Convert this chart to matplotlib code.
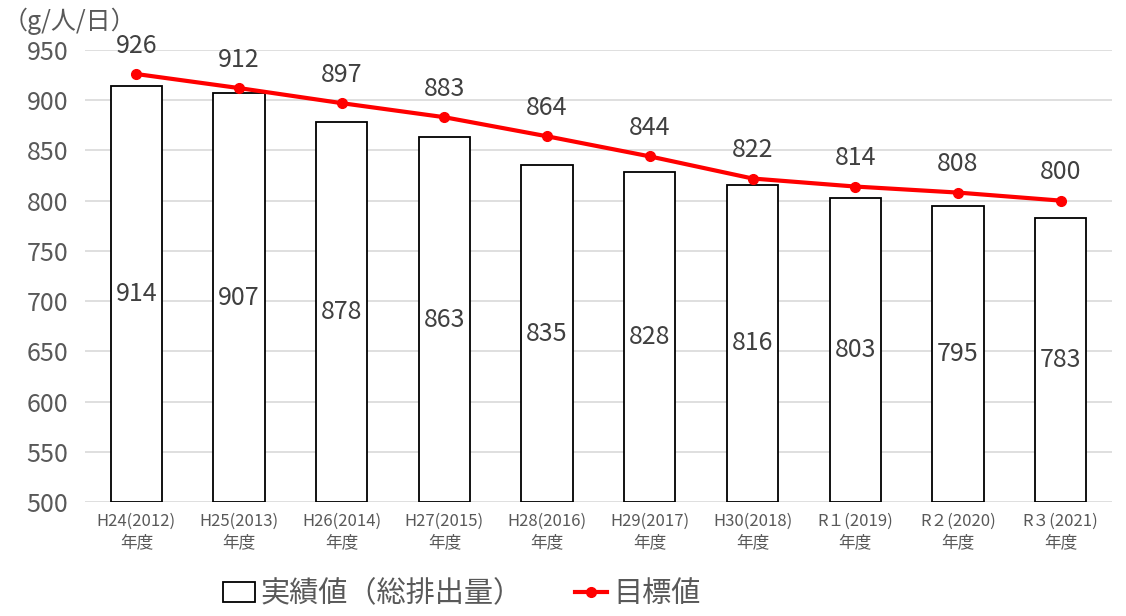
"""Waste per person: actual vs target."""

import matplotlib
matplotlib.use("Agg")
import matplotlib.pyplot as plt
import numpy as np
from matplotlib.patches import Patch
from matplotlib.lines import Line2D

categories = ["H24(2012)\n年度", "H25(2013)\n年度", "H26(2014)\n年度", "H27(2015)\n年度",
              "H28(2016)\n年度", "H29(2017)\n年度", "H30(2018)\n年度", "R１(2019)\n年度",
              "R２(2020)\n年度", "R３(2021)\n年度"]
actual = [914, 907, 878, 863, 835, 828, 816, 803, 795, 783]
target = [926, 912, 897, 883, 864, 844, 822, 814, 808, 800]

plt.rcParams["font.family"] = ["Noto Sans CJK JP", "DejaVu Sans"]
jp_font = ["Noto Sans CJK JP", "DejaVu Sans"]

fig = plt.figure(figsize=(11.26, 6.16), dpi=100)
ax = fig.add_axes([0.0755, 0.185, 0.912, 0.734])
x = np.arange(len(categories))

ax.bar(x, [a - 500 for a in actual], bottom=500, width=0.5, color="white",
       edgecolor="black", linewidth=1.3, zorder=2)
ax.plot(x, target, color="#ff0000", linewidth=3, marker="o", markersize=7, zorder=3)

for xi, a in zip(x, actual):
    ax.text(xi, (500 + a) / 2, str(a), ha="center", va="center", fontsize=18,
            color="#404040", zorder=4)
for xi, t in zip(x, target):
    ax.annotate(str(t), (xi, t), xytext=(0, 11), textcoords="offset points",
                ha="center", va="bottom", fontsize=18, color="#404040")

ax.set_xlim(-0.5, len(categories) - 0.5)
ax.set_ylim(500, 950)
ax.set_yticks(np.arange(500, 951, 50))
ax.tick_params(axis="y", labelsize=18, labelcolor="#595959", length=0, pad=12)
ax.set_xticks(x)
ax.set_xticklabels(categories, fontsize=12, color="#595959", linespacing=1.3)
ax.tick_params(axis="x", length=0, pad=8)
ax.grid(True, axis="y", color="#d9d9d9", linewidth=1.2, zorder=0)
ax.set_axisbelow(True)
for s in ax.spines.values():
    s.set_visible(False)

fig.text(0.002, 0.965, "（g/人/日）", fontsize=18, color="#595959",
         ha="left", va="center")

handles = [Patch(facecolor="white", edgecolor="black", linewidth=1.3),
           Line2D([0], [0], color="#ff0000", linewidth=3, marker="o", markersize=7)]
fig.legend(handles, ["実績値（総排出量）", "目標値"], loc="center", bbox_to_anchor=(0.41, 0.035),
           ncol=2, frameon=False, prop={"family": jp_font, "size": 21}, labelcolor="#595959",
           columnspacing=1.8, handlelength=1.1, handletextpad=0.2)

fig.savefig("out.png", dpi=100)
